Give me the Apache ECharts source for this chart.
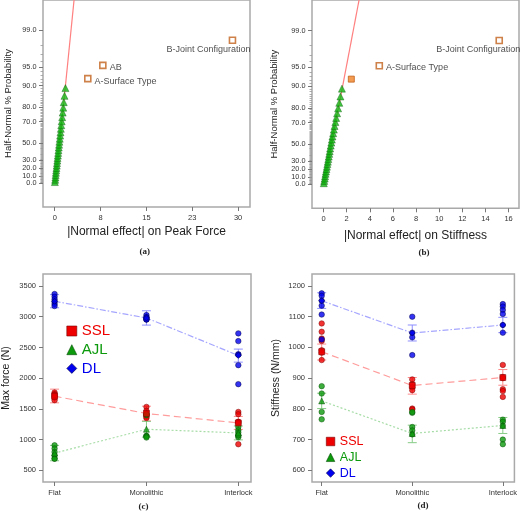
<!DOCTYPE html>
<html><head><meta charset="utf-8">
<script src="https://cdn.jsdelivr.net/npm/echarts@6/dist/echarts.min.js"></script>
<style>html,body{margin:0;padding:0;background:#fff}#c{width:520px;height:512px}</style>
</head><body><div id="c"></div>
<script>
// ================= DATA =================
// half-normal probability axis ticks (percent)
const probTicks = [0, 10, 20, 30, 50, 70, 80, 90, 95, 99];
const probTickLabels = ['0.0','10.0','20.0','30.0','50.0','70.0','80.0','90.0','95.0','99.0'];
const probMinorTicks = [1,2,3,4,5,6,7,8,9,11,12,13,14,15,16,17,18,19,21,22,23,24,25,26,27,28,29,31,32,33,34,35,36,37,38,39,40,41,42,43,44,45,46,47,48,49,51,52,53,54,55,56,57,58,59,60,61,62,63,64,65,66,67,68,69,71,72,73,74,75,76,77,78,79,81,82,83,84,85,86,87,88,89,91,92,93,94,96,97,98];

// (a) Peak force half-normal plot
const effTicksA = [0, 7.5, 15, 22.5, 30];
const effTickLabelsA = ['0', '8', '15', '23', '30'];
const errProbA   = [1.6,4.7,7.8,10.9,14.1,17.2,20.3,23.4,26.6,29.7,32.8,35.9,39.1,42.2,45.3,48.4,51.6,54.7,57.8,60.9,64.1,67.2,70.3,73.4,76.6,79.7,82.8,85.9,89.1];
const errEffectA = [0.02,0.07,0.11,0.15,0.19,0.24,0.28,0.33,0.37,0.42,0.46,0.51,0.56,0.61,0.66,0.71,0.76,0.82,0.88,0.94,1.0,1.07,1.14,1.22,1.3,1.39,1.48,1.6,1.75];
const sigNamesA  = ['A-Surface Type', 'AB', 'B-Joint Configuration'];
const sigEffectA = [5.41, 7.87, 29.08];
const sigProbA   = [92.2, 95.3, 98.4];
const fitEffectA = [0.15, 3.36];
const fitProbA   = [0, 99.9];

// (b) Stiffness half-normal plot
const effTicksB = [0, 2, 4, 6, 8, 10, 12, 14, 16];
const effTickLabelsB = ['0','2','4','6','8','10','12','14','16'];
const errProbB   = [1.6,4.7,7.8,10.9,14.1,17.2,20.3,23.4,26.6,29.7,32.8,35.9,39.1,42.2,45.3,48.4,51.6,54.7,57.8,60.9,64.1,67.2,70.3,73.4,76.6,79.7,82.8,85.9,89.1];
const errEffectB = [0.02,0.06,0.1,0.13,0.17,0.21,0.25,0.29,0.33,0.37,0.41,0.45,0.49,0.53,0.57,0.62,0.67,0.72,0.77,0.83,0.89,0.95,1.02,1.09,1.17,1.26,1.36,1.46,1.59];
const sigNamesB  = ['AB', 'A-Surface Type', 'B-Joint Configuration'];
const sigEffectB = [2.4, 4.82, 15.19];
const sigProbB   = [92.2, 95.3, 98.4];
const fitEffectB = [0.03, 3.27];
const fitProbB   = [0, 99.9];

// (c),(d) interaction plots
const categories = ['Flat', 'Monolithic', 'Interlock'];
const groups = ['SSL', 'AJL', 'DL'];
const forceTicks = [500, 1000, 1500, 2000, 2500, 3000, 3500];
const stiffTicks = [600, 700, 800, 900, 1000, 1100, 1200];

// Max force (N) individual specimens [Flat, Monolithic, Interlock]
const forceSSL = [[1767,1740,1723,1700,1685,1641],[1532,1467,1424,1410,1369,1350],[1450,1413,1290,1287,1260,924]];
const forceAJL = [[907,854,798,744,690,687],[1397,1410,1059,1059,1050,1033],[1206,1152,1115,1071,1038,1066]];
const forceDL  = [[3370,3326,3283,3245,3207,3174],[3027,2990,2990,2955,2955,2960],[2729,2603,2391,2380,2212,1902]];
const forceMeanSSL = [1706, 1425, 1271];
const forceMeanAJL = [780, 1168, 1108];
const forceMeanDL  = [3252, 2980, 2370];
const forceLowSSL  = [1598, 1304, 1165];
const forceHighSSL = [1821, 1543, 1377];
const forceLowAJL  = [655, 1040, 995];
const forceHighAJL = [905, 1296, 1221];
const forceLowDL   = [3146, 2864, 2261];
const forceHighDL  = [3360, 3097, 2473];

// Stiffness (N/mm)
const stiffSSL = [[1078,1051,1029,1021,991,983,959],[896,880,870,861,801,798],[943,904,900,864,858,839]];
const stiffAJL = [[874,850,790,766],[787,741,730,717,790],[765,758,745,700,685]];
const stiffDL  = [[1176,1168,1152,1136,1107,1026],[1100,1048,1033,975],[1141,1133,1122,1109,1073,1048]];
const stiffMeanSSL = [986, 876, 902];
const stiffMeanAJL = [826, 720, 746];
const stiffMeanDL  = [1152, 1047, 1073];
const stiffLowSSL  = [959, 848, 877];
const stiffHighSSL = [1011, 902, 928];
const stiffLowAJL  = [801, 690, 720];
const stiffHighAJL = [851, 747, 772];
const stiffLowDL   = [1127, 1021, 1048];
const stiffHighDL  = [1178, 1073, 1098];

// ================= HELPERS =================
function probit(p){
  const a=[-3.969683028665376e+01,2.209460984245205e+02,-2.759285104469687e+02,1.383577518672690e+02,-3.066479806614716e+01,2.506628277459239e+00];
  const b=[-5.447609879822406e+01,1.615858368580409e+02,-1.556989798598866e+02,6.680131188771972e+01,-1.328068155288572e+01];
  const c=[-7.784894002430293e-03,-3.223964580411365e-01,-2.400758277161838e+00,-2.549732539343734e+00,4.374664141464968e+00,2.938163982698783e+00];
  const d=[7.784695709041462e-03,3.224671290700398e-01,2.445134137142996e+00,3.754408661907416e+00];
  const pl=0.02425, ph=1-pl; let q,r;
  if(p<pl){q=Math.sqrt(-2*Math.log(p));return (((((c[0]*q+c[1])*q+c[2])*q+c[3])*q+c[4])*q+c[5])/((((d[0]*q+d[1])*q+d[2])*q+d[3])*q+1);}
  if(p<=ph){q=p-0.5;r=q*q;return (((((a[0]*r+a[1])*r+a[2])*r+a[3])*r+a[4])*r+a[5])*q/(((((b[0]*r+b[1])*r+b[2])*r+b[3])*r+b[4])*r+1);}
  q=Math.sqrt(-2*Math.log(1-p));return -(((((c[0]*q+c[1])*q+c[2])*q+c[3])*q+c[4])*q+c[5])/((((d[0]*q+d[1])*q+d[2])*q+d[3])*q+1);
}
// half-normal probability scale (tiny offset keeps the 0 % tick a distinct custom value)
const hn = pct => probit(0.5 + pct / 200);
const probTickPos = probTicks.map(p => hn(p) + 1e-9);
const probMinorPos = probMinorTicks.map(hn);
function probLabel(v){
  for (let i = 0; i < probTickPos.length; i++) if (Math.abs(probTickPos[i] - v) < 1e-6) return probTickLabels[i];
  return '';
}
function pickLabel(ticks, labels){
  return v => { for (let i = 0; i < ticks.length; i++) if (Math.abs(ticks[i]-v) < 1e-6) return labels[i]; return ''; };
}

const FONT = 'Liberation Sans, Arial, sans-serif';
const TXT = '#333';
const FRAME = '#a9a9a9';

const colors = {
  SSL: {pt:'#ee0000', bd:'#7a0000', line:'#ff9c9c', err:'#ff8a8a', sym:'rect', dash:[7,4]},
  AJL: {pt:'#0c9a0c', bd:'#064d06', line:'#a6dca6', err:'#86cc86', sym:'triangle', dash:[2,2]},
  DL:  {pt:'#0000ee', bd:'#00004a', line:'#a6a6ff', err:'#8e8eff', sym:'diamond', dash:[6,2,1.5,2]}
};

// ================= AXES =================
const grids = [
  {left:43, top:-2, width:207, height:209},
  {left:312, top:-2, width:207, height:210.3},
  {left:43, top:274, width:208, height:208},
  {left:312, top:274, width:207, height:208}
].map(g => Object.assign({show:true, borderColor:FRAME, borderWidth:1.5, backgroundColor:'transparent'}, g));

function baseAxis(extra){
  return Object.assign({
    type:'value', axisLine:{show:false, onZero:false}, splitLine:{show:false},
    axisTick:{show:true, length:4, lineStyle:{color:'#777', width:1}},
    axisLabel:{fontSize:7.5, color:TXT, fontFamily:FONT, margin:6},
    nameTextStyle:{color:TXT, fontFamily:FONT}
  }, extra);
}
const lbl = extra => Object.assign({fontSize:7.5, color:TXT, fontFamily:FONT, hideOverlap:false, showMinLabel:true, showMaxLabel:true}, extra);

const xAxes = [
  baseAxis({gridIndex:0, min:-1.92, max:31.95,
    axisTick:{show:true, length:4, customValues:effTicksA, lineStyle:{color:'#777'}},
    axisLabel:lbl({margin:7, customValues:effTicksA, formatter:pickLabel(effTicksA, effTickLabelsA)}),
    name:'|Normal effect| on Peak Force', nameLocation:'middle', nameGap:19,
    nameTextStyle:{fontSize:12, color:'#222', fontFamily:FONT}}),
  baseAxis({gridIndex:1, min:-1.0, max:16.9,
    axisTick:{show:true, length:4, customValues:effTicksB, lineStyle:{color:'#777'}},
    axisLabel:lbl({margin:7, customValues:effTicksB, formatter:pickLabel(effTicksB, effTickLabelsB)}),
    name:'|Normal effect| on Stiffness', nameLocation:'middle', nameGap:21,
    nameTextStyle:{fontSize:12, color:'#222', fontFamily:FONT}}),
  baseAxis({gridIndex:2, min:-0.126, max:2.138,
    axisTick:{show:true, length:4, customValues:[0,1,2], lineStyle:{color:'#777'}},
    axisLabel:lbl({margin:7, customValues:[0,1,2], formatter:v => categories[Math.round(v)]})}),
  baseAxis({gridIndex:3, min:-0.107, max:2.128,
    axisTick:{show:true, length:4, customValues:[0,1,2], lineStyle:{color:'#777'}},
    axisLabel:lbl({margin:7, customValues:[0,1,2], formatter:v => categories[Math.round(v)]})})
];

const probYAxis = (gi, gap) => baseAxis({gridIndex:gi, min:-0.40, max:3.087, position:'left',
  axisTick:{show:true, length:4, customValues:probTickPos, lineStyle:{color:'#777'}},
  axisLabel:lbl({margin:6.5, fontSize:7.3, lineHeight:6.5, customValues:probTickPos, formatter:probLabel}),
  name:'Half-Normal % Probability', nameLocation:'middle', nameGap:gap,
  nameTextStyle:{fontSize:9.5, color:'#222', fontFamily:FONT}});
const probMinorAxis = gi => baseAxis({gridIndex:gi, min:-0.40, max:3.087, position:'left', offset:0,
  axisTick:{show:true, length:2.5, customValues:probMinorPos, lineStyle:{color:'#999', width:0.8}},
  axisLabel:{show:false}});

const yAxes = [
  probYAxis(0, 30),
  probYAxis(1, 33),
  baseAxis({gridIndex:2, min:309, max:3696,
    axisTick:{show:true, length:4, customValues:forceTicks, lineStyle:{color:'#777'}},
    axisLabel:lbl({margin:7, customValues:forceTicks, formatter:v => String(v)}),
    name:'Max force (N)', nameLocation:'middle', nameGap:31,
    nameTextStyle:{fontSize:10.5, color:'#222', fontFamily:FONT}}),
  baseAxis({gridIndex:3, min:562, max:1239,
    axisTick:{show:true, length:4, customValues:stiffTicks, lineStyle:{color:'#777'}},
    axisLabel:lbl({margin:7, customValues:stiffTicks, formatter:v => String(v)}),
    name:'Stiffness (N/mm)', nameLocation:'middle', nameGap:30,
    nameTextStyle:{fontSize:10.5, color:'#222', fontFamily:FONT}}),
  probMinorAxis(0),
  probMinorAxis(1)
];

// ================= SERIES =================
const series = [];

function halfNormal(ax, errEff, errProb, sigNames, sigEff, sigProb, fitEff, fitProb, sigStyles){
  series.push({type:'line', xAxisIndex:ax, yAxisIndex:ax, silent:true, symbol:'none', z:2,
    data: fitEff.map((x,i) => [x, hn(fitProb[i])]),
    lineStyle:{color:'#ff8080', width:1.2}});
  series.push({type:'scatter', xAxisIndex:ax, yAxisIndex:ax, symbol:'triangle', symbolSize:7, z:3,
    data: errEff.map((x,i) => [x, hn(errProb[i])]),
    itemStyle:{color:'#12b812', borderColor:'#0a5a0a', borderWidth:0.5}});
  series.push({type:'scatter', xAxisIndex:ax, yAxisIndex:ax, symbol:'rect', symbolSize:6, z:4,
    data: sigEff.map((x,i) => Object.assign({value:[x, hn(sigProb[i])], name:sigNames[i]}, sigStyles[i])),
    label:{show:true, color:'#222', fontSize:9, fontFamily:FONT, formatter:p => p.name}});
}
const openSq = {itemStyle:{color:'#ffffff', borderColor:'#c2621c', borderWidth:1.6}};
const fillSq = {itemStyle:{color:'#f08224', borderColor:'#c2621c', borderWidth:1}};
halfNormal(0, errEffectA, errProbA, sigNamesA, sigEffectA, sigProbA, fitEffectA, fitProbA, [
  Object.assign({label:{position:'right', distance:3, offset:[0,3]}}, openSq),
  Object.assign({label:{position:'right', distance:3, offset:[0,2]}}, openSq),
  Object.assign({label:{position:'inside', offset:[-24,9]}}, openSq)
]);
halfNormal(1, errEffectB, errProbB, sigNamesB, sigEffectB, sigProbB, fitEffectB, fitProbB, [
  Object.assign({label:{show:false}}, fillSq),
  Object.assign({label:{position:'right', distance:3, offset:[0,2]}}, openSq),
  Object.assign({label:{position:'inside', offset:[-21,9]}}, openSq)
]);

function interaction(ax, name, pts, means, lows, highs){
  const c = colors[name];
  const flat = [];
  pts.forEach((arr, ci) => arr.forEach(v => flat.push([ci, v])));
  series.push({type:'custom', name, xAxisIndex:ax, yAxisIndex:ax, z:2, silent:true,
    data: lows.map((lo,i) => [i, lo, highs[i]]),
    encode:{x:0, y:[1,2]},
    renderItem:(params, api) => {
      const x = api.value(0);
      const a = api.coord([x, api.value(1)]), b = api.coord([x, api.value(2)]);
      const hw = 4.5, st = {stroke:c.err, lineWidth:1};
      return {type:'group', children:[
        {type:'line', shape:{x1:a[0], y1:a[1], x2:b[0], y2:b[1]}, style:st},
        {type:'line', shape:{x1:a[0]-hw, y1:a[1], x2:a[0]+hw, y2:a[1]}, style:st},
        {type:'line', shape:{x1:b[0]-hw, y1:b[1], x2:b[0]+hw, y2:b[1]}, style:st}
      ]};
    }});
  series.push({type:'line', name, xAxisIndex:ax, yAxisIndex:ax, z:3, silent:true,
    data: means.map((m,i) => [i, m]), symbol:'none',
    lineStyle:{color:c.line, width:1.2, type:c.dash}});
  series.push({type:'scatter', name, xAxisIndex:ax, yAxisIndex:ax, z:4, symbol:'circle', symbolSize:5.5,
    data: flat, itemStyle:{color:c.pt, borderColor:c.bd, borderWidth:0.6}});
  series.push({type:'scatter', name, xAxisIndex:ax, yAxisIndex:ax, z:5, symbol:c.sym, symbolSize:6,
    data: means.map((m,i) => [i, m]), itemStyle:{color:c.pt, borderColor:c.bd, borderWidth:0.6}});
}
interaction(2, 'SSL', forceSSL, forceMeanSSL, forceLowSSL, forceHighSSL);
interaction(2, 'AJL', forceAJL, forceMeanAJL, forceLowAJL, forceHighAJL);
interaction(2, 'DL',  forceDL,  forceMeanDL,  forceLowDL,  forceHighDL);
interaction(3, 'SSL', stiffSSL, stiffMeanSSL, stiffLowSSL, stiffHighSSL);
interaction(3, 'AJL', stiffAJL, stiffMeanAJL, stiffLowAJL, stiffHighAJL);
interaction(3, 'DL',  stiffDL,  stiffMeanDL,  stiffLowDL,  stiffHighDL);

function legendData(){
  return groups.map(g => ({name:g, icon:colors[g].sym,
    itemStyle:{color:colors[g].pt, borderColor:colors[g].bd, borderWidth:0.6},
    textStyle:{color:colors[g].pt}}));
}

const option = {
  animation:false,
  backgroundColor:'#fff',
  grid: grids,
  xAxis: xAxes,
  yAxis: yAxes,
  series,
  legend: [
    {orient:'vertical', left:66.5, top:323.5, padding:0, itemWidth:10, itemHeight:10, itemGap:3.7, selectedMode:false,
     textStyle:{fontSize:15, fontFamily:FONT}, data:legendData()},
    {orient:'vertical', left:326, top:435, padding:0, itemWidth:8.5, itemHeight:8.5, itemGap:2.8, selectedMode:false,
     textStyle:{fontSize:12.5, fontFamily:FONT}, data:legendData()}
  ],
  graphic: [
    {type:'text', left:139.5, top:247.5, style:{text:'(a)', font:'bold 9px Liberation Serif, Times New Roman, serif', fill:'#222'}},
    {type:'text', left:418.5, top:248, style:{text:'(b)', font:'bold 9px Liberation Serif, Times New Roman, serif', fill:'#222'}},
    {type:'text', left:138.5, top:502.5, style:{text:'(c)', font:'bold 9px Liberation Serif, Times New Roman, serif', fill:'#222'}},
    {type:'text', left:417.5, top:501.5, style:{text:'(d)', font:'bold 9px Liberation Serif, Times New Roman, serif', fill:'#222'}}
  ]
};

const chart = echarts.init(document.getElementById('c'), null, {renderer:'canvas'});
chart.setOption(option);
</script>
</body></html>
